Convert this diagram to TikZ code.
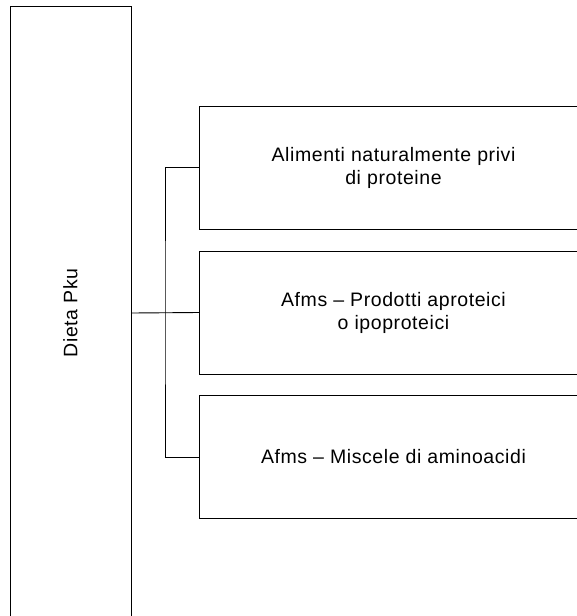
\documentclass[tikz,border=0pt]{standalone}
\usepackage{fontspec}
\setmainfont[LetterSpace=3]{Liberation Sans}
\usetikzlibrary{positioning}

\tikzset{
  mainbox/.style={draw,line width=0.9pt,minimum width=121pt,minimum height=614pt,inner sep=0pt},
  itembox/.style={draw,line width=0.9pt,minimum width=388pt,minimum height=123pt,inner sep=0pt,
                  align=center,font=\fontsize{19.5}{23}\selectfont},
  link/.style={line width=0.9pt}
}

\begin{document}
\begin{tikzpicture}[x=1pt,y=-1pt]
\useasboundingbox (0,0) rectangle (576,616);

% ======================= left column: the diet =======================
\node[mainbox] (dieta) at (70.5,313)
  {\rotatebox{90}{\fontsize{19.5}{23}\selectfont Dieta Pku}};

% ======================= right column: the three groups ==============
\node[itembox] (alim) at (393.5,167.5) {Alimenti naturalmente privi\\di proteine};
\node[itembox] (prod) at (393.5,312.5) {Afms -- Prodotti aproteici\\o ipoproteici};
\node[itembox] (misc) at (393.5,457)   {Afms -- Miscele di aminoacidi};

% ======================= connectors ==================================
\coordinate (split) at (165,313);
\draw[link] (dieta.east) -- (prod.west);
\draw[link] (alim.west) -| (split) |- (misc.west);

\end{tikzpicture}
\end{document}
